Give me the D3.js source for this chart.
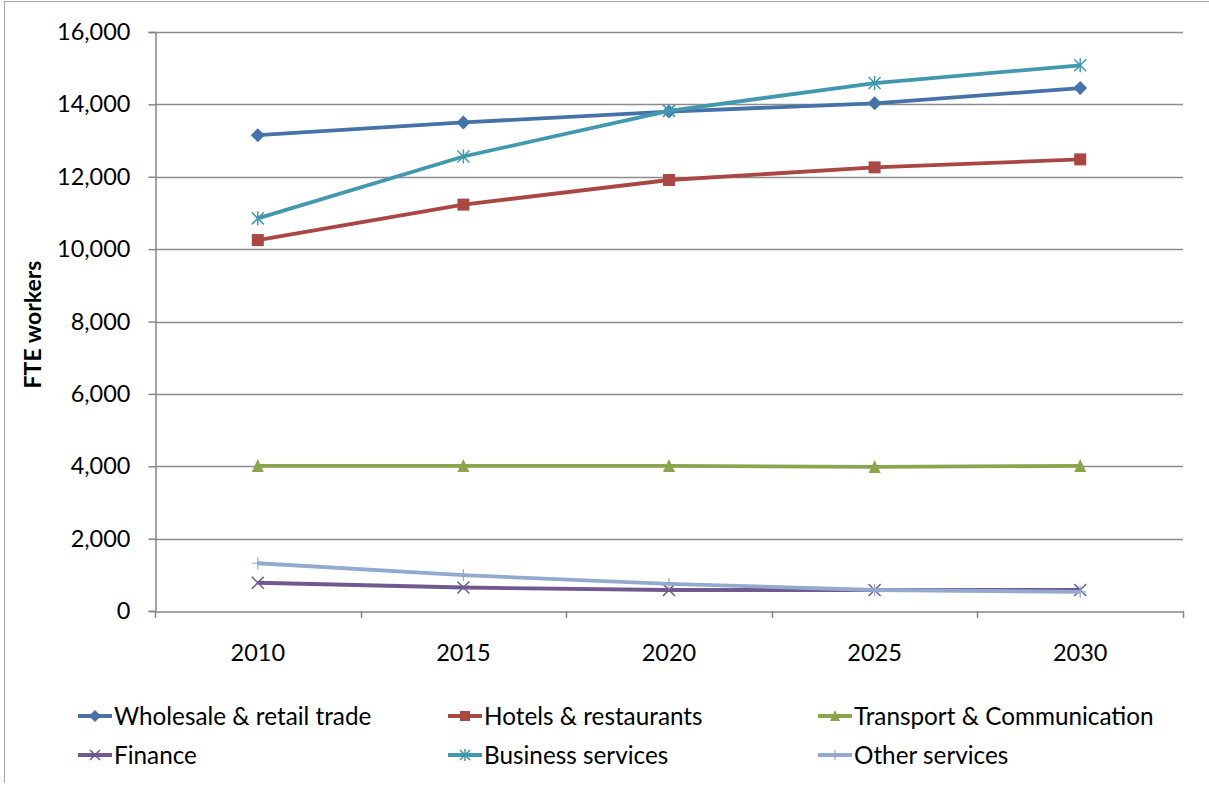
<!DOCTYPE html>
<html>
<head>
<meta charset="utf-8">
<script src="https://cdn.jsdelivr.net/npm/d3@7"></script>
<style>
  html, body { margin: 0; padding: 0; background: #fff; }
  svg { display: block; font-family: Lato, "Open Sans", sans-serif; }
</style>
</head>
<body>
<svg id="chart" width="1209" height="787"></svg>
<script>
// Years on the category axis
const years = ["2010", "2015", "2020", "2025", "2030"];

// FTE workers per sector
const wholesale = [13150, 13500, 13800, 14030, 14450];
const hotels    = [10250, 11230, 11910, 12260, 12480];
const transport = [4010, 4010, 4010, 3980, 4010];
const finance   = [780, 650, 580, 580, 580];
const business  = [10850, 12560, 13820, 14590, 15080];
const other     = [1320, 990, 750, 580, 530];

const yTicks = [0, 2000, 4000, 6000, 8000, 10000, 12000, 14000, 16000];
const yTitle = "FTE workers";

const seriesNames = ["Wholesale & retail trade", "Hotels & restaurants", "Transport & Communication",
                     "Finance", "Business services", "Other services"];
const seriesValues = [wholesale, hotels, transport, finance, business, other];
const seriesColors = ["#4572A7", "#AA4643", "#89A54E", "#71588F", "#4198AF", "#93A9CF"];
const seriesMarkers = ["diamond", "square", "triangle", "x", "star", "plus"];

const svg = d3.select("#chart");
const plotLeft = 155, plotRight = 1183, plotTop = 32, plotBottom = 611;

const x = d3.scaleBand().domain(years).range([plotLeft, plotRight]).padding(0);
const y = d3.scaleLinear().domain([0, 16000]).range([plotBottom, plotTop]);
const cx = d => x(d) + x.bandwidth() / 2;

// chart frame (left and top edges)
svg.append("line").attr("x1", 4.5).attr("x2", 4.5).attr("y1", 1).attr("y2", 783)
  .attr("stroke", "#a6a6a6").attr("stroke-width", 1);
svg.append("line").attr("x1", 4.5).attr("x2", 1209).attr("y1", 1.5).attr("y2", 1.5)
  .attr("stroke", "#a6a6a6").attr("stroke-width", 1);

// horizontal gridlines
svg.append("g").selectAll("line").data(yTicks.filter(t => t > 0)).join("line")
  .attr("x1", plotLeft).attr("x2", plotRight)
  .attr("y1", d => Math.round(y(d)) + 0.5).attr("y2", d => Math.round(y(d)) + 0.5)
  .attr("stroke", "#8c8c8c").attr("stroke-width", 1.5);

// y axis
const yAxis = d3.axisLeft(y).tickValues(yTicks).tickSize(7).tickPadding(18)
  .tickFormat(d3.format(","));
const gy = svg.append("g").attr("transform", `translate(${plotLeft + 0.5},0)`).call(yAxis);
gy.select(".domain").attr("stroke", "#868686").attr("stroke-width", 1.5);
gy.selectAll(".tick line").attr("stroke", "#868686").attr("stroke-width", 1.5);
gy.selectAll(".tick text").attr("font-size", 23.5).attr("fill", "#000")
  .attr("font-family", "Lato, sans-serif");

// x axis with tick marks between categories
const xAxis = d3.axisBottom(x).tickSize(0).tickPadding(33);
const gx = svg.append("g").attr("transform", `translate(0,${plotBottom + 0.5})`).call(xAxis);
gx.select(".domain").attr("stroke", "#868686").attr("stroke-width", 1.5);
gx.selectAll(".tick text").attr("font-size", 23.5).attr("fill", "#000")
  .attr("font-family", "Lato, sans-serif");
const bounds = years.map(d => x(d)).concat([plotRight]);
svg.append("g").selectAll("line").data(bounds).join("line")
  .attr("x1", d => Math.round(d) + 0.5).attr("x2", d => Math.round(d) + 0.5)
  .attr("y1", plotBottom).attr("y2", plotBottom + 7)
  .attr("stroke", "#868686").attr("stroke-width", 1.5);

// y axis title
svg.append("text")
  .attr("transform", `translate(41,${(plotTop + plotBottom) / 2 + 3}) rotate(-90)`)
  .attr("text-anchor", "middle")
  .attr("font-size", 23).attr("font-weight", "bold").attr("fill", "#000")
  .text(yTitle);

// marker drawing
function drawMarker(g, type, color, s) {
  const h = s / 2;
  switch (type) {
    case "diamond":
      g.append("path").attr("d", `M0,${-h - 1}L${h + 1},0L0,${h + 1}L${-h - 1},0Z`).attr("fill", color);
      break;
    case "square":
      g.append("rect").attr("x", -h).attr("y", -h).attr("width", s).attr("height", s).attr("fill", color);
      break;
    case "triangle":
      g.append("path").attr("d", `M0,${-h - 1}L${h},${h}L${-h},${h}Z`).attr("fill", color);
      break;
    case "x":
      g.append("path").attr("d", `M${-h},${-h}L${h},${h}M${h},${-h}L${-h},${h}`)
        .attr("stroke", color).attr("stroke-width", 1.5).attr("fill", "none");
      break;
    case "star":
      g.append("path").attr("d", `M${-h},${-h}L${h},${h}M${h},${-h}L${-h},${h}M0,${-h - 1}L0,${h + 1}`)
        .attr("stroke", color).attr("stroke-width", 1.5).attr("fill", "none");
      break;
    case "plus":
      g.append("path").attr("d", `M0,${-h}L0,${h}M${-h},0L${h},0`)
        .attr("stroke", color).attr("stroke-width", 1.2).attr("fill", "none");
      break;
  }
}

// series lines and markers
const line = d3.line().x((d, i) => cx(years[i])).y(d => y(d));
seriesValues.forEach((vals, k) => {
  const g = svg.append("g");
  g.append("path").datum(vals).attr("d", line)
    .attr("fill", "none").attr("stroke", seriesColors[k]).attr("stroke-width", 3.8)
    .attr("stroke-linejoin", "round");
  vals.forEach((v, i) => {
    const m = g.append("g").attr("transform", `translate(${cx(years[i])},${y(v)})`);
    drawMarker(m, seriesMarkers[k], seriesColors[k], 12);
  });
});

// legend
const legX = [78, 448, 818], legY = [716, 755];
seriesNames.forEach((name, k) => {
  const g = svg.append("g")
    .attr("transform", `translate(${legX[k % 3]},${legY[Math.floor(k / 3)]})`);
  g.append("line").attr("x1", 0).attr("x2", 34).attr("y1", 0).attr("y2", 0)
    .attr("stroke", seriesColors[k]).attr("stroke-width", 3.8);
  const m = g.append("g").attr("transform", "translate(17,0)");
  drawMarker(m, seriesMarkers[k], seriesColors[k], 10);
  g.append("text").attr("x", 36).attr("y", 0).attr("dy", "0.36em")
    .attr("font-size", 24.3).attr("fill", "#000").text(name);
});
</script>
</body>
</html>
